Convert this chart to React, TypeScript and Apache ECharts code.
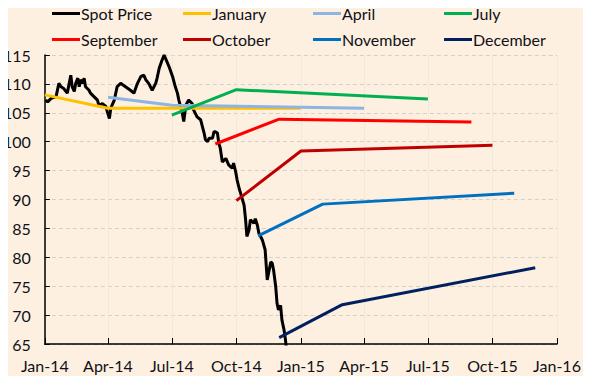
import React, { useEffect, useRef } from "react";
import * as echarts from "echarts";

// Spot price: days since 2014-01-01 and price ($/bbl)
const spotDays = [1, 4, 9, 16, 20, 23, 27, 30, 32, 37, 39, 42, 44, 47, 49, 51, 54, 56, 58, 63, 65, 70, 75, 77, 82, 87, 89, 92, 94, 99, 103, 108, 115, 122, 127, 132, 137, 141, 144, 148, 153, 158, 160, 163, 167, 170, 172, 177, 182, 186, 189, 191, 196, 198, 201, 205, 210, 212, 217, 222, 227, 229, 232, 234, 239, 241, 243, 246, 248, 250, 253, 258, 262, 267, 269, 272, 274, 277, 279, 284, 286, 288, 291, 293, 298, 300, 303, 305, 310, 314, 317, 322, 324, 326, 329, 331, 333, 336, 338, 341, 343, 344, 350, 357, 363];
const spotPrices = [107.2, 106.9, 107.5, 107.8, 110.1, 109.5, 109.2, 108.7, 108.4, 111.5, 109.5, 108.7, 110.1, 111.0, 109.5, 110.7, 110.1, 111.0, 109.5, 108.9, 108.4, 107.8, 107.2, 106.3, 106.6, 106.1, 105.2, 104.0, 105.8, 107.2, 109.5, 110.1, 109.5, 108.9, 108.4, 110.1, 111.3, 111.5, 110.7, 110.1, 108.9, 110.1, 111.0, 112.7, 114.1, 115.0, 114.4, 113.0, 111.3, 109.5, 108.4, 107.2, 104.9, 103.5, 106.3, 107.2, 106.6, 105.5, 104.3, 103.8, 101.5, 100.3, 100.0, 100.6, 100.6, 101.7, 101.7, 101.5, 99.7, 98.9, 96.5, 97.1, 96.0, 95.4, 96.3, 94.8, 93.4, 91.9, 91.1, 89.0, 86.7, 83.6, 84.7, 86.5, 85.9, 86.7, 85.5, 84.2, 83.0, 81.3, 76.1, 79.2, 79.0, 77.8, 75.0, 72.0, 70.9, 71.7, 69.1, 67.4, 65.7, 64.5, 62.0, 60.0, 57.5];

// Futures curves: [start, +3 months, +12 months]
const januaryCurve = [["2014-01-01", 108.1], ["2014-04-01", 105.8], ["2015-01-01", 105.8]];
const aprilCurve = [["2014-04-01", 107.7], ["2014-07-01", 106.3], ["2015-04-01", 105.8]];
const julyCurve = [["2014-07-01", 104.6], ["2014-10-01", 109.0], ["2015-07-01", 107.4]];
const septemberCurve = [["2014-09-01", 99.6], ["2014-12-01", 103.9], ["2015-09-01", 103.4]];
const octoberCurve = [["2014-10-01", 89.8], ["2015-01-01", 98.4], ["2015-10-01", 99.4]];
const novemberCurve = [["2014-11-01", 83.7], ["2015-02-01", 89.2], ["2015-11-01", 91.1]];
const decemberCurve = [["2014-12-01", 66.1], ["2015-03-01", 71.8], ["2015-12-01", 78.2]];

const seriesNames = ["Spot Price", "January", "April", "July", "September", "October", "November", "December"];
const seriesColors = ["#000000", "#FFC000", "#8DB4E2", "#00B050", "#FF0000", "#C00000", "#0070C0", "#002060"];
const monthNames = ["Jan", "Feb", "Mar", "Apr", "May", "Jun", "Jul", "Aug", "Sep", "Oct", "Nov", "Dec"];

const FONT = "Lato, 'Open Sans', sans-serif";
const TEXT = "#101018";

export default function App() {
  const ref = useRef<HTMLDivElement>(null);
  useEffect(() => {
    if (!ref.current) return;
    const chart = echarts.init(ref.current, undefined, { renderer: "svg" });
    const base = Date.UTC(2014, 0, 1);
    const spotData = spotDays.map((d, i) => [base + d * 86400000, spotPrices[i]]);
    const curves = [januaryCurve, aprilCurve, julyCurve, septemberCurve, octoberCurve, novemberCurve, decemberCurve];
    const allData = [spotData, ...curves];

    const legendCols = [52, 183, 313, 444];
    const legends = legendCols.map((left, c) => ({
      left,
      top: 4,
      padding: 0,
      orient: "vertical" as const,
      itemWidth: 28,
      itemHeight: 3,
      itemGap: 7,
      icon: "rect",
      data: [seriesNames[c], seriesNames[c + 4]],
      textStyle: { fontFamily: FONT, fontSize: 16, lineHeight: 19, color: TEXT, padding: [0, 0, 0, -4] },
    }));

    chart.setOption({
      animation: false,
      useUTC: true,
      backgroundColor: "#FDF0E0",
      legend: legends,
      grid: { left: 44, right: 34, top: 55, bottom: 40, containLabel: false },
      xAxis: {
        type: "time",
        min: Date.UTC(2014, 0, 1),
        max: Date.UTC(2016, 0, 1),
        splitNumber: 8,
        minInterval: 89 * 86400000,
        maxInterval: 93 * 86400000,
        axisLine: { lineStyle: { color: "#000", width: 1.5 } },
        axisTick: { show: true, inside: true, length: 6, lineStyle: { color: "#000", width: 1 } },
        axisLabel: {
          margin: 13,
          fontFamily: FONT,
          fontSize: 16,
          color: TEXT,
          hideOverlap: false,
          showMinLabel: true,
          showMaxLabel: true,
          formatter: (val: number) => {
            const d = new Date(val);
            return monthNames[d.getUTCMonth()] + "-" + String(d.getUTCFullYear()).slice(2);
          },
        },
        splitLine: { show: true, lineStyle: { color: "#F1E8DE", width: 1 } },
      },
      yAxis: {
        type: "value",
        min: 65,
        max: 115,
        interval: 5,
        axisLine: { show: true, lineStyle: { color: "#000", width: 1.5 } },
        axisTick: { show: true, inside: true, length: 5, lineStyle: { color: "#000" } },
        axisLabel: { margin: 14, fontFamily: FONT, fontSize: 16, color: TEXT },
        splitLine: { show: true, lineStyle: { color: "#D3CFCB", type: [4, 3], width: 1 } },
      },
      series: seriesNames.map((name, i) => ({
        name,
        type: "line",
        data: allData[i],
        showSymbol: false,
        symbol: "none",
        clip: true,
        color: seriesColors[i],
        lineStyle: { color: seriesColors[i], width: 3 },
        z: i === 0 ? 2 : 3,
      })),
    });
    return () => chart.dispose();
  }, []);
  return <div ref={ref} style={{ width: 591, height: 384, margin: -8 }} />;
}
